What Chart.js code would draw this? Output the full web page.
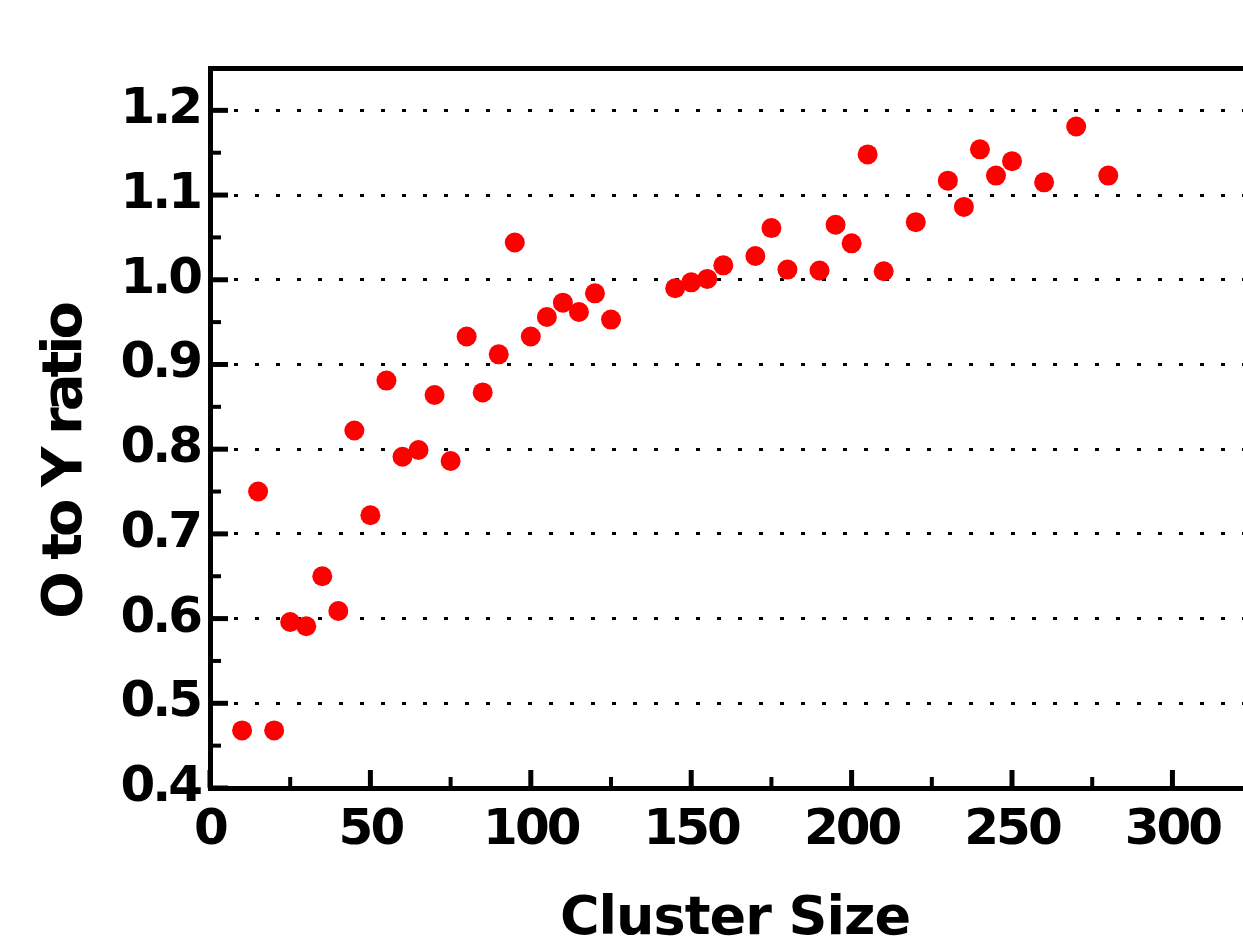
<!DOCTYPE html>
<html>
<head>
<meta charset="utf-8">
<script src="https://cdn.jsdelivr.net/npm/chart.js@4"></script>
<style>
  html, body { margin: 0; padding: 0; background: #fff; }
  #wrap { width: 1243px; height: 939px; }
</style>
</head>
<body>
<div id="wrap"><canvas id="grafica"></canvas></div>
<script>
// datos
const sizes = [10, 15, 20, 25, 30, 35, 40, 45, 50, 55, 60, 65, 70, 75, 80, 85, 90, 95,
  100, 105, 110, 115, 120, 125, 145, 150, 155, 160, 170, 175, 180, 190, 195, 200,
  205, 210, 220, 230, 235, 240, 245, 250, 260, 270, 280];
const ratios = [0.468, 0.750, 0.468, 0.596, 0.591, 0.650, 0.609, 0.822, 0.722, 0.881,
  0.791, 0.799, 0.864, 0.786, 0.933, 0.867, 0.912, 1.044, 0.933, 0.956, 0.973, 0.962,
  0.984, 0.953, 0.990, 0.997, 1.001, 1.017, 1.028, 1.061, 1.012, 1.011, 1.065, 1.043,
  1.148, 1.010, 1.068, 1.117, 1.086, 1.154, 1.123, 1.140, 1.115, 1.181, 1.123];
const xTicks = [0, 50, 100, 150, 200, 250, 300];
const yTicks = [0.4, 0.5, 0.6, 0.7, 0.8, 0.9, 1.0, 1.1, 1.2];
const xTitle = 'Cluster Size';
const yTitle = 'O to Y ratio';

const FONT = "'DejaVu Sans', 'Liberation Sans', sans-serif";

/* ticks hacia adentro + titulos de ejes */
const ejes = {
  id: 'ejes',
  beforeDraw(chart) {
    chart.ctx.letterSpacing = '-3px';
  },
  afterDraw(chart) {
    const ctx = chart.ctx;
    const { x, y } = chart.scales;
    const area = chart.chartArea;
    ctx.save();
    ctx.strokeStyle = '#000';
    ctx.lineCap = 'butt';
    // eje y
    for (let i = 0; i < yTicks.length; i++) {
      const py = y.getPixelForValue(yTicks[i]);
      ctx.lineWidth = 5;
      ctx.beginPath(); ctx.moveTo(area.left, py); ctx.lineTo(area.left + 18, py); ctx.stroke();
      const mid = yTicks[i] + 0.05;
      if (mid < y.max) {
        const pm = y.getPixelForValue(mid);
        ctx.lineWidth = 4;
        ctx.beginPath(); ctx.moveTo(area.left, pm); ctx.lineTo(area.left + 11, pm); ctx.stroke();
      }
    }
    // eje x
    for (let i = 0; i < xTicks.length; i++) {
      const px = x.getPixelForValue(xTicks[i]);
      ctx.lineWidth = 5;
      ctx.beginPath(); ctx.moveTo(px, area.bottom); ctx.lineTo(px, area.bottom - 18); ctx.stroke();
      const mid = xTicks[i] + 25;
      if (mid < x.max) {
        const pm = x.getPixelForValue(mid);
        ctx.lineWidth = 4;
        ctx.beginPath(); ctx.moveTo(pm, area.bottom); ctx.lineTo(pm, area.bottom - 11); ctx.stroke();
      }
    }
    // titulos
    ctx.fillStyle = '#000';
    ctx.textAlign = 'center';
    ctx.textBaseline = 'middle';
    ctx.font = 'bold 54px ' + FONT;
    ctx.letterSpacing = '-1px';
    ctx.fillText(xTitle, 735, 920);
    ctx.translate(66, 462);
    ctx.rotate(-Math.PI / 2);
    ctx.font = 'bold 56px ' + FONT;
    ctx.letterSpacing = '-4px';
    ctx.fillText(yTitle, 0, 0);
    ctx.restore();
  }
};

const ctx = document.getElementById('grafica').getContext('2d');

new Chart(ctx, {
  type: 'scatter',
  data: {
    datasets: [{
      data: sizes.map((s, i) => ({ x: s, y: ratios[i] })),
      backgroundColor: '#ff0000',
      borderWidth: 0,
      pointRadius: 10,
      pointHoverRadius: 10
    }]
  },
  options: {
    responsive: true,
    maintainAspectRatio: false,
    animation: false,
    layout: { autoPadding: false, padding: { top: 68, left: 0, right: 0, bottom: 0 } },
    plugins: { legend: { display: false }, tooltip: { enabled: false } },
    scales: {
      x: {
        type: 'linear',
        min: 0,
        max: 322,
        afterBuildTicks: s => { s.ticks = xTicks.map(v => ({ value: v })); },
        afterFit: s => { s.height = 151; },
        grid: { display: false },
        border: { display: true, color: '#000', width: 5 },
        ticks: {
          color: '#000',
          padding: 5,
          maxRotation: 0,
          font: { family: FONT, size: 50, weight: 'bold' },
          callback: v => String(v)
        }
      },
      xTop: {
        type: 'linear',
        position: 'top',
        min: 0,
        max: 322,
        afterFit: s => { s.height = 0; },
        grid: { display: false },
        border: { display: true, color: '#000', width: 5 },
        ticks: { display: false }
      },
      y: {
        min: 0.4,
        max: 1.25,
        afterBuildTicks: s => { s.ticks = yTicks.map(v => ({ value: v })); },
        afterFit: s => { s.width = 210; },
        grid: { display: true, color: '#000', lineWidth: 3, drawTicks: false },
        border: { display: true, color: '#000', width: 5, dash: [4, 17] },
        ticks: {
          color: '#000',
          padding: 10,
          font: { family: FONT, size: 50, weight: 'bold' },
          callback: v => v.toFixed(1)
        }
      }
    }
  },
  plugins: [ejes]
});
</script>
</body>
</html>
